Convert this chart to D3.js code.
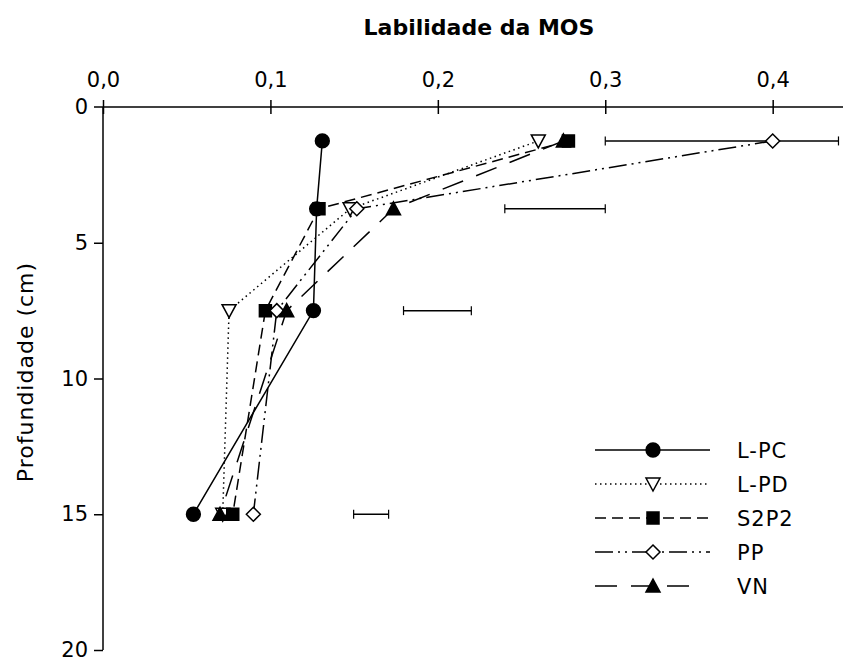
<!DOCTYPE html>
<html>
<head>
<meta charset="utf-8">
<script src="https://cdn.jsdelivr.net/npm/d3@7/dist/d3.min.js"></script>
<style>
  html, body { margin: 0; padding: 0; background: #fff; }
  svg { display: block; }
  text { font-family: "DejaVu Sans", "Open Sans", sans-serif; fill: #000; }
</style>
</head>
<body>
<svg id="chart" width="843" height="657"></svg>
<script>
// Soil depth (cm) at which each lability value was measured
const depths = [1.25, 3.75, 7.5, 15];

// Lability of soil organic matter per management system
const seriesNames = ["L-PC", "L-PD", "S2P2", "PP", "VN"];
const lpc  = [0.131, 0.1276, 0.1257, 0.054];
const lpd  = [0.260, 0.1476, 0.0753, 0.0715];
const s2p2 = [0.278, 0.1290, 0.0970, 0.0775];
const pp   = [0.400, 0.1516, 0.1038, 0.0898];
const vn   = [0.275, 0.1735, 0.1097, 0.0699];

// Horizontal least-significant-difference bars at each depth
const lsdLow  = [0.300, 0.240, 0.1795, 0.1497];
const lsdHigh = [0.4393, 0.300, 0.2200, 0.1706];

// Axis ticks
const xTicks = [0, 0.1, 0.2, 0.3, 0.4];
const yTicks = [0, 5, 10, 15, 20];

const svg = d3.select("#chart");

const x = d3.scaleLinear().domain([0, 0.442]).range([103, 843]);
const y = d3.scaleLinear().domain([0, 20]).range([107, 650]);

// Line / marker styling per series
const styles = {
  "L-PC": { dash: null,               marker: "circle",   fill: "#000" },
  "L-PD": { dash: "1.5,3.5",          marker: "triDown",  fill: "#fff" },
  "S2P2": { dash: "11,6",             marker: "square",   fill: "#000" },
  "PP":   { dash: "18,5,2,5,2,5",     marker: "diamond",  fill: "#fff" },
  "VN":   { dash: "22,14",            marker: "triUp",    fill: "#000" }
};
const values = { "L-PC": lpc, "L-PD": lpd, "S2P2": s2p2, "PP": pp, "VN": vn };

function markerPath(kind) {
  switch (kind) {
    case "circle":  return d3.symbol(d3.symbolCircle, 150)();
    case "square":  return "M-6,-6H6V6H-6Z";
    case "diamond": return "M0,-7L7,0L0,7L-7,0Z";
    case "triUp":   return "M0,-7L7,6L-7,6Z";
    case "triDown": return "M-7,-6L7,-6L0,7Z";
  }
}

// Title
svg.append("text")
  .attr("x", 479).attr("y", 35)
  .attr("text-anchor", "middle")
  .style("font-size", "22px").style("font-weight", "bold")
  .text("Labilidade da MOS");

// Top axis
const xAxis = d3.axisTop(x)
  .tickValues(xTicks)
  .tickSize(0)
  .tickFormat(d => d3.format(".1f")(d).replace(".", ","));
const gx = svg.append("g").attr("transform", `translate(0,${y(0)})`).call(xAxis);
gx.select(".domain").remove();
gx.selectAll(".tick text")
  .attr("y", -20)
  .style("font-size", "21px").style("font-family", "'DejaVu Sans', sans-serif").attr("fill", "#000");
gx.selectAll(".tick").append("line")
  .attr("y1", -7).attr("y2", 7).attr("stroke", "#000").attr("stroke-width", 1.5);
svg.append("line")
  .attr("x1", 94).attr("x2", 843).attr("y1", y(0)).attr("y2", y(0))
  .attr("stroke", "#000").attr("stroke-width", 1.5);

// Left axis
const yAxis = d3.axisLeft(y).tickValues(yTicks).tickSize(9).tickPadding(6);
const gy = svg.append("g").attr("transform", `translate(${x(0)},0)`).call(yAxis);
gy.select(".domain").attr("stroke-width", 1.5).attr("d", `M0,${y(0)}V${y(20)}`);
gy.selectAll(".tick line").attr("stroke-width", 1.5);
gy.selectAll(".tick text")
  .style("font-size", "21px").style("font-family", "'DejaVu Sans', sans-serif").attr("fill", "#000");
gy.selectAll(".tick").filter(d => d === 0).select("line").remove();

svg.append("text")
  .attr("transform", `translate(33,372) rotate(-90)`)
  .attr("text-anchor", "middle")
  .style("font-size", "22px").style("letter-spacing", "1px")
  .text("Profundidade (cm)");

// LSD bars
const bars = svg.append("g").attr("stroke", "#000").attr("stroke-width", 1.5);
depths.forEach((d, i) => {
  bars.append("line").attr("x1", x(lsdLow[i])).attr("x2", x(lsdHigh[i]))
    .attr("y1", y(d)).attr("y2", y(d));
  [lsdLow[i], lsdHigh[i]].forEach(v => {
    bars.append("line").attr("x1", x(v)).attr("x2", x(v))
      .attr("y1", y(d) - 4.5).attr("y2", y(d) + 4.5).attr("stroke-width", 1.2);
  });
});

// Series lines
const line = d3.line().x(d => x(d[0])).y(d => y(d[1]));
seriesNames.forEach(name => {
  const pts = values[name].map((v, i) => [v, depths[i]]);
  svg.append("path")
    .attr("d", line(pts))
    .attr("fill", "none").attr("stroke", "#000").attr("stroke-width", 1.5)
    .attr("stroke-dasharray", styles[name].dash);
});

// Series markers
seriesNames.forEach(name => {
  const st = styles[name];
  svg.append("g").selectAll("path")
    .data(values[name].map((v, i) => [v, depths[i]]))
    .join("path")
    .attr("transform", d => `translate(${x(d[0])},${y(d[1])})`)
    .attr("d", markerPath(st.marker))
    .attr("fill", st.fill).attr("stroke", "#000").attr("stroke-width", 1.5);
});

// Legend
const legend = svg.append("g");
seriesNames.forEach((name, i) => {
  const st = styles[name];
  const ly = 450 + i * 34;
  legend.append("line")
    .attr("x1", 595).attr("x2", name === "VN" ? 700 : 710)
    .attr("y1", ly).attr("y2", ly)
    .attr("stroke", "#000").attr("stroke-width", 1.5)
    .attr("stroke-dasharray", st.dash);
  legend.append("path")
    .attr("transform", `translate(653,${ly})`)
    .attr("d", markerPath(st.marker))
    .attr("fill", st.fill).attr("stroke", "#000").attr("stroke-width", 1.5);
  legend.append("text")
    .attr("x", 737).attr("y", ly + 8)
    .style("font-size", "21px").style("letter-spacing", "1px")
    .text(name);
});
</script>
</body>
</html>
